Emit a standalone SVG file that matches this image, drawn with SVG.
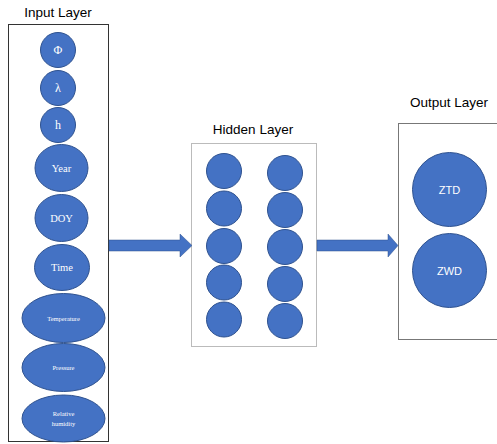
<svg xmlns="http://www.w3.org/2000/svg" width="497" height="444" viewBox="0 0 497 444">
  <style>
    .title { font-family: "Liberation Sans", Arial, sans-serif; font-size: 13.5px; fill: #000; text-anchor: middle; }
    .node { fill: #4472C4; stroke: #2F528F; stroke-width: 1; }
    .serif { font-family: "Liberation Serif", "Times New Roman", serif; fill: #fff; text-anchor: middle; dominant-baseline: central; }
    .sans { font-family: "Liberation Sans", Arial, sans-serif; fill: #fff; text-anchor: middle; dominant-baseline: central; font-size: 11px; }
    .box { fill: #fff; }
    .arrow { fill: #4472C4; stroke: #2F528F; stroke-width: 0.5; }
  </style>

  <rect width="497" height="444" fill="#fff"/>

  <!-- layer frames -->
  <g id="input-layer">
    <text class="title" x="58" y="17">Input Layer</text>
    <rect class="box" x="8.5" y="24.5" width="100" height="417" stroke="#333" stroke-width="1"/>
  </g>
  <g id="hidden-layer">
    <text class="title" x="253" y="134">Hidden Layer</text>
    <rect class="box" x="191.5" y="143.5" width="125" height="203" stroke="#bbb" stroke-width="1"/>
  </g>
  <g id="output-layer">
    <text class="title" x="449" y="107">Output Layer</text>
    <rect class="box" x="398.5" y="123.5" width="110" height="216" stroke="#777" stroke-width="1"/>
  </g>

  <!-- input nodes -->
  <g id="in-phi"><circle class="node" cx="58" cy="50" r="17.5"/><text class="serif" x="58" y="50" font-size="12">Φ</text></g>
  <g id="in-lambda"><circle class="node" cx="58" cy="88" r="17.5"/><text class="serif" x="58" y="88" font-size="12">λ</text></g>
  <g id="in-h"><circle class="node" cx="58" cy="125" r="17.5"/><text class="serif" x="58" y="125" font-size="12">h</text></g>
  <g id="in-year"><ellipse class="node" cx="61.5" cy="168" rx="26.5" ry="23.5"/><text class="serif" x="61.5" y="168" font-size="10.5">Year</text></g>
  <g id="in-doy"><ellipse class="node" cx="61.5" cy="218" rx="26.5" ry="23.5"/><text class="serif" x="61.5" y="218" font-size="10.5">DOY</text></g>
  <g id="in-time"><ellipse class="node" cx="62" cy="267.5" rx="27.5" ry="23"/><text class="serif" x="62" y="267.5" font-size="10.5">Time</text></g>
  <g id="in-temperature"><ellipse class="node" cx="63.5" cy="318" rx="41.5" ry="24.5"/><text class="serif" x="63.5" y="318" font-size="6.5">Temperature</text></g>
  <g id="in-pressure"><ellipse class="node" cx="63.5" cy="367.5" rx="41.5" ry="24"/><text class="serif" x="63.5" y="367.5" font-size="6.5">Pressure</text></g>
  <g id="in-humidity"><ellipse class="node" cx="63.5" cy="418.5" rx="41.5" ry="23.5"/><text class="serif" x="63.5" y="413" font-size="6.5">Relative</text><text class="serif" x="63.5" y="423.5" font-size="6.5">humidity</text></g>

  <!-- hidden nodes -->
  <g id="hidden-1-1"><circle class="node" cx="224" cy="171" r="17.5"/></g>
  <g id="hidden-1-2"><circle class="node" cx="224" cy="208.5" r="17.5"/></g>
  <g id="hidden-1-3"><circle class="node" cx="224" cy="246" r="17.5"/></g>
  <g id="hidden-1-4"><circle class="node" cx="224" cy="282.5" r="17.5"/></g>
  <g id="hidden-1-5"><circle class="node" cx="224" cy="319.5" r="17.5"/></g>
  <g id="hidden-2-1"><circle class="node" cx="285" cy="173" r="17.5"/></g>
  <g id="hidden-2-2"><circle class="node" cx="285" cy="210" r="17.5"/></g>
  <g id="hidden-2-3"><circle class="node" cx="285" cy="247" r="17.5"/></g>
  <g id="hidden-2-4"><circle class="node" cx="285" cy="284" r="17.5"/></g>
  <g id="hidden-2-5"><circle class="node" cx="285" cy="321" r="17.5"/></g>

  <!-- output nodes -->
  <g id="out-ztd"><circle class="node" cx="449.5" cy="189.5" r="37"/><text class="sans" x="449.5" y="189.5">ZTD</text></g>
  <g id="out-zwd"><circle class="node" cx="449.5" cy="270.5" r="37"/><text class="sans" x="449.5" y="270.5">ZWD</text></g>

  <!-- connectors between layers -->
  <g id="connectors">
    <path class="arrow" d="M109,240 H180 V234 L192,245.5 L180,257 V251 H109 Z"/>
    <path class="arrow" d="M317,240 H388 V234 L398,245.5 L388,257 V251 H317 Z"/>
  </g>
</svg>
